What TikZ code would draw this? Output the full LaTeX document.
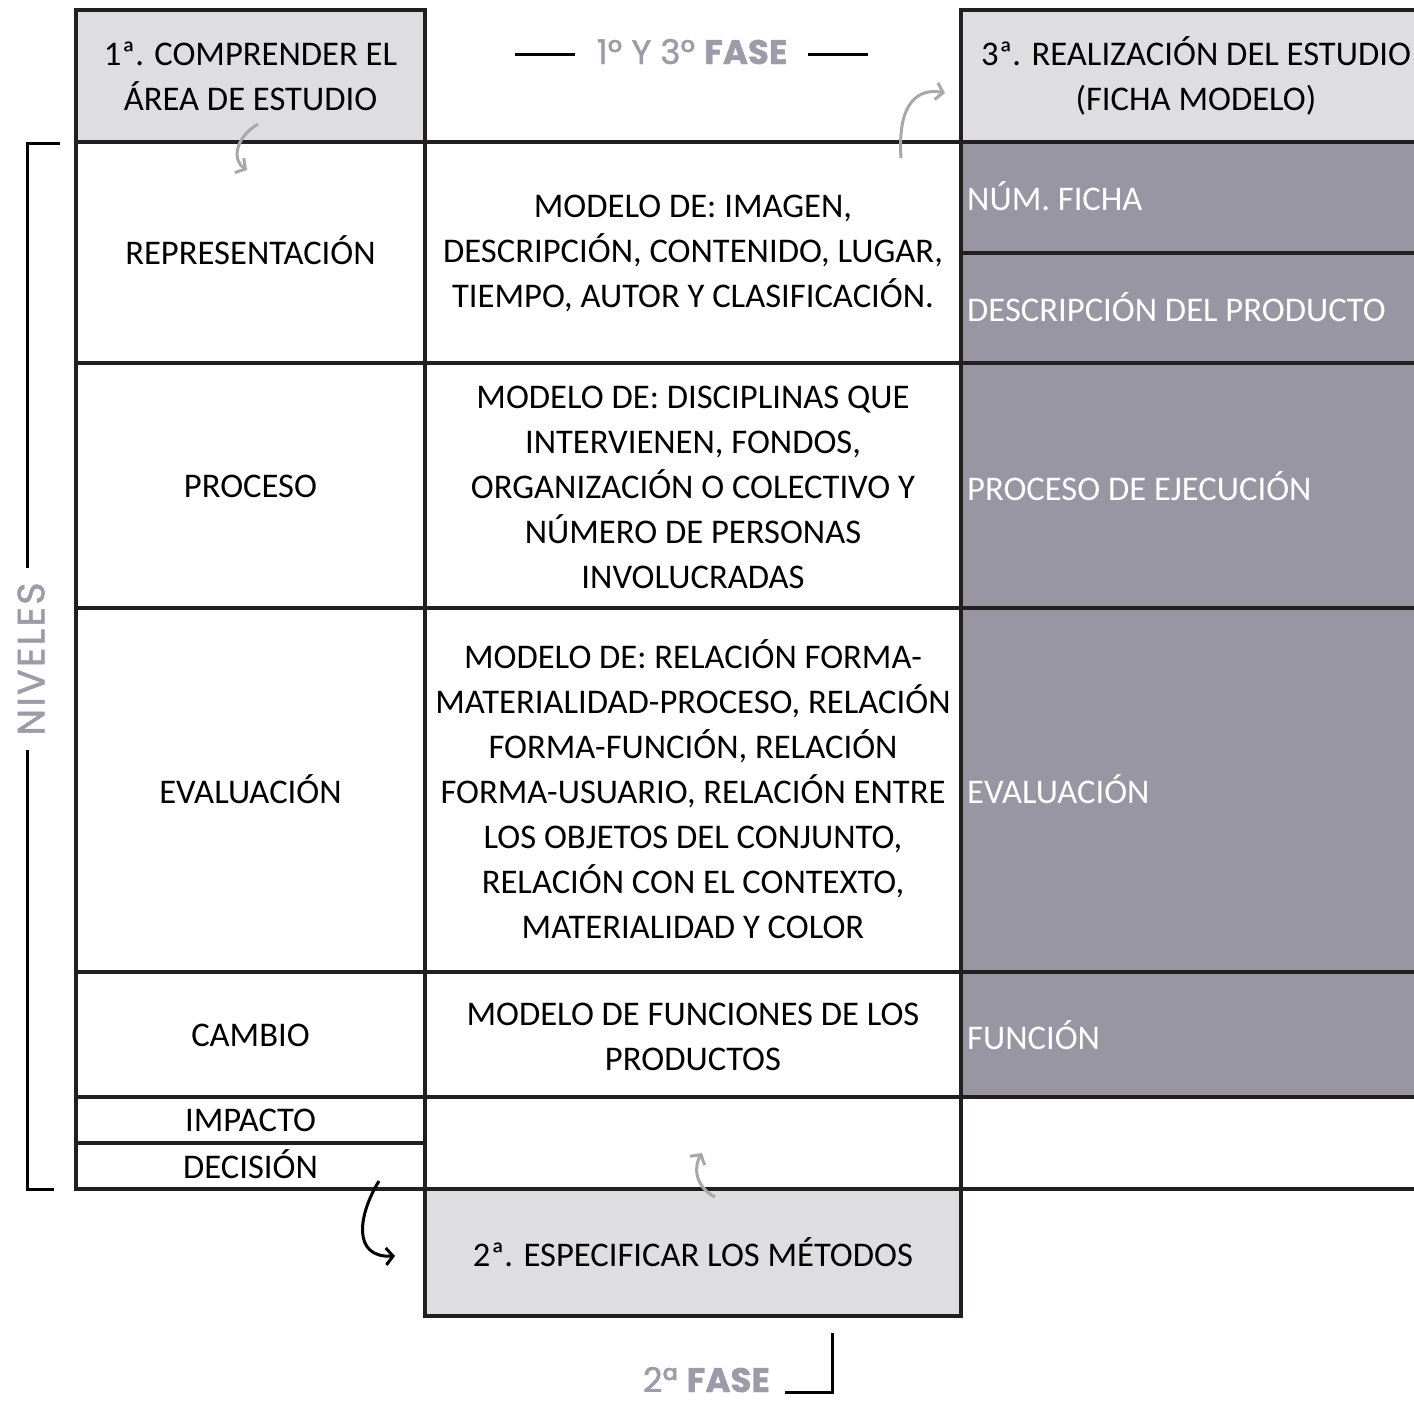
\documentclass[tikz,border=0pt]{standalone}
\usepackage{fontspec}
\setmainfont{Carlito}
\newfontfamily\headfont[FakeBold=1.3]{Poppins}
\newfontfamily\nivfont[FakeBold=1.3,LetterSpace=6]{Poppins}
\usetikzlibrary{arrows.meta}
\definecolor{linec}{RGB}{35,31,32}
\definecolor{lightg}{RGB}{222,222,224}
\definecolor{darkg}{RGB}{153,150,163}
\definecolor{headc}{RGB}{158,155,168}
\definecolor{arrg}{RGB}{168,168,170}
\begin{document}
\begin{tikzpicture}[x=1pt,y=-1pt,
  grid/.style={line width=4pt,draw=linec},
  cell/.style={align=center,inner sep=0pt,font=\fontsize{34.6}{45}\selectfont,text=black},
  rcell/.style={anchor=west,inner sep=0pt,font=\fontsize{34.6}{45}\selectfont,text=white},
  head/.style={inner sep=0pt,font=\headfont\fontsize{34}{40}\selectfont,text=headc},
  thin/.style={line width=3pt,draw=black},
  garrow/.style={line width=3pt,draw=arrg,-{Straight Barb[length=7pt,width=17pt]}},
  barrow/.style={line width=3pt,draw=black,-{Straight Barb[length=7pt,width=17pt]}}]
\useasboundingbox (0,0) rectangle (1414,1403);
% fills
\fill[lightg] (76,10) rectangle (425,142);
\fill[lightg] (961,10) rectangle (1414,142);
\fill[lightg] (425,1189) rectangle (961,1316);
\fill[darkg] (961,142) rectangle (1414,1097);
% grid lines
\draw[grid] (76,10) -- (425,10);
\draw[grid] (961,10) -- (1414,10);
\draw[grid] (76,8) -- (76,1191);
\draw[grid] (425,8) -- (425,1318);
\draw[grid] (961,8) -- (961,1318);
\draw[grid] (74,142) -- (1414,142);
\draw[grid] (961,253) -- (1414,253);
\draw[grid] (74,363) -- (1414,363);
\draw[grid] (74,608) -- (1414,608);
\draw[grid] (74,972) -- (1414,972);
\draw[grid] (74,1097) -- (1414,1097);
\draw[grid] (74,1143) -- (425,1143);
\draw[grid] (74,1189) -- (1414,1189);
\draw[grid] (423,1316) -- (963,1316);
% header texts
\node[cell] (h1) at (250.5,76) {1ª. COMPRENDER EL\\ÁREA DE ESTUDIO};
\node[cell] (h3) at (1196,76) {3ª. REALIZACIÓN DEL ESTUDIO\\(FICHA MODELO)};
\node[cell] (h2) at (693,1252) {2ª. ESPECIFICAR LOS MÉTODOS};
% left column
\node[cell] (l1) at (250.5,250.5) {REPRESENTACIÓN};
\node[cell] (l2) at (250.5,486) {PROCESO};
\node[cell] (l3) at (250.5,789) {EVALUACIÓN};
\node[cell] (l4) at (250.5,1035) {CAMBIO};
\node[cell] (l5) at (250.5,1120) {IMPACTO};
\node[cell] (l6) at (250.5,1164) {DECISIÓN};
% middle column
\node[cell] (m1) at (693,253.5) {MODELO DE: IMAGEN,\\DESCRIPCIÓN, CONTENIDO, LUGAR,\\TIEMPO, AUTOR Y CLASIFICACIÓN.};
\node[cell] (m2) at (693,487) {MODELO DE: DISCIPLINAS QUE\\INTERVIENEN, FONDOS,\\ORGANIZACIÓN O COLECTIVO Y\\NÚMERO DE PERSONAS\\INVOLUCRADAS};
\node[cell] (m3) at (693,789) {MODELO DE: RELACIÓN FORMA-\\MATERIALIDAD-PROCESO, RELACIÓN\\FORMA-FUNCIÓN, RELACIÓN\\FORMA-USUARIO, RELACIÓN ENTRE\\LOS OBJETOS DEL CONJUNTO,\\RELACIÓN CON EL CONTEXTO,\\MATERIALIDAD Y COLOR};
\node[cell] (m4) at (693,1037) {MODELO DE FUNCIONES DE LOS\\PRODUCTOS};
% right column
\node[rcell] (r1) at (967,196) {NÚM. FICHA};
\node[rcell] (r2) at (967,307) {DESCRIPCIÓN DEL PRODUCTO};
\node[rcell] (r3) at (967,486) {PROCESO DE EJECUCIÓN};
\node[rcell] (r4) at (967,789) {EVALUACIÓN};
\node[rcell] (r5) at (967,1035) {FUNCIÓN};
% phase headings
\node[head,anchor=base] (f13) at (692,64) {1º Y 3º \bfseries FASE};
\coordinate (d1a) at (515,54); \coordinate (d1b) at (575,54);
\coordinate (d2a) at (808,54); \coordinate (d2b) at (868,54);
\draw[thin] (d1a) -- (d1b);
\draw[thin] (d2a) -- (d2b);
\node[head,anchor=base east] (f2) at (770,1392) {2ª \bfseries FASE};
\coordinate (b1) at (785,1392); \coordinate (b2) at (832,1392); \coordinate (b3) at (832,1333);
\draw[thin] (b1) -- (b2) -- (b3);
% NIVELES bracket
\node[head,rotate=90,font=\nivfont\fontsize{38}{40}\selectfont] (niv) at (31,659) {NIVELES};
\coordinate (n1) at (60,143); \coordinate (n2) at (27,143); \coordinate (n3) at (27,568);
\coordinate (n4) at (27,750); \coordinate (n5) at (27,1189); \coordinate (n6) at (54,1189);
\draw[thin] (n1) -- (n2) -- (n3);
\draw[thin] (n4) -- (n5) -- (n6);
% curved arrows
\coordinate (a1s) at (901,158); \coordinate (a1e) at (945,93);
\draw[garrow] (a1s) .. controls (897,100) and (920,88) .. (a1e);
\coordinate (a2s) at (258,124); \coordinate (a2e) at (247,170);
\draw[garrow] (a2s) .. controls (232,140) and (234,162) .. (a2e);
\coordinate (a3s) at (379,1181); \coordinate (a3e) at (395,1256);
\draw[barrow] (a3s) .. controls (358,1215) and (352,1258) .. (a3e);
\coordinate (a4s) at (715,1197); \coordinate (a4e) at (702,1153);
\draw[garrow] (a4s) .. controls (694,1186) and (694,1166) .. (a4e);
\end{tikzpicture}
\end{document}
